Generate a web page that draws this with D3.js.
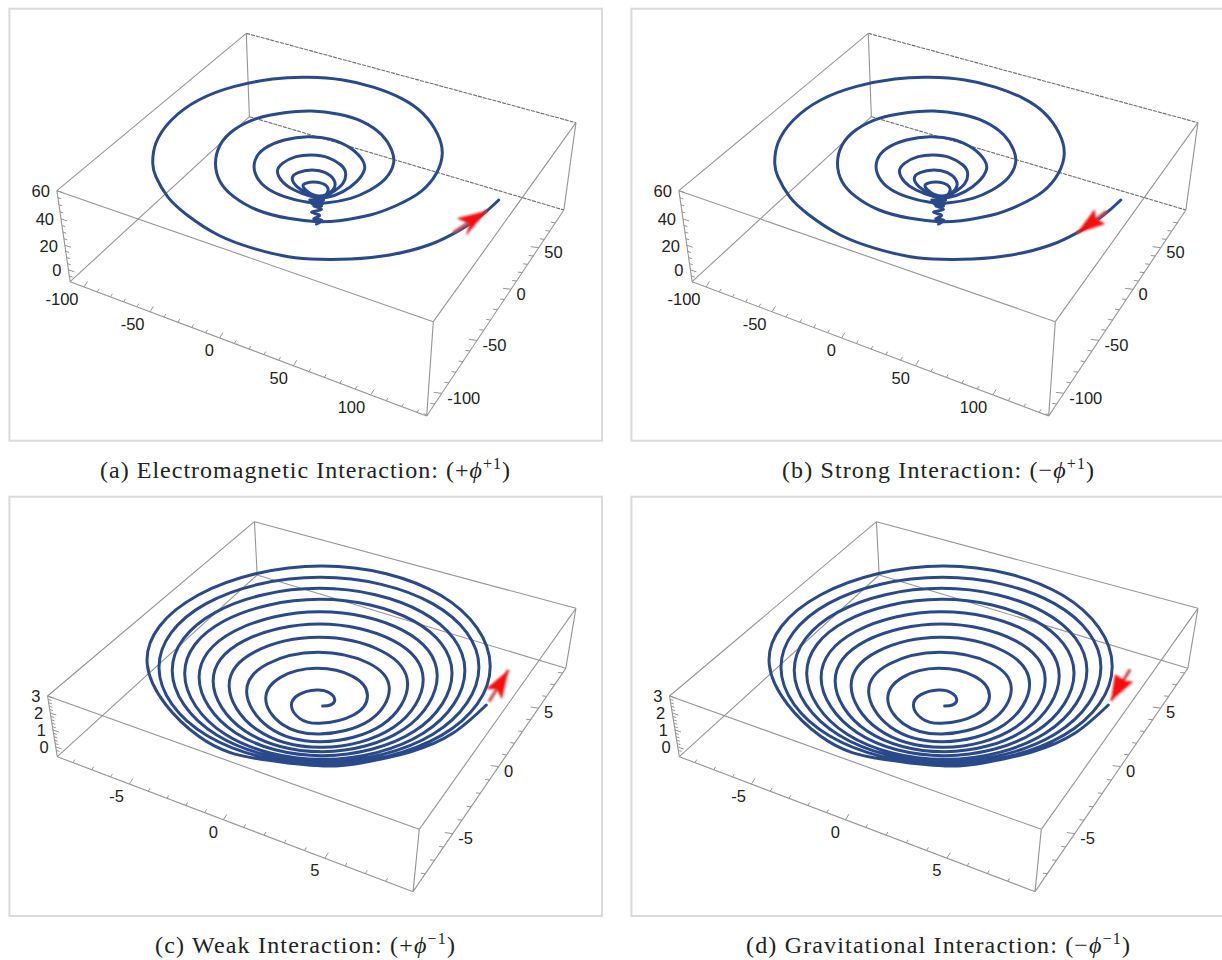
<!DOCTYPE html>
<html>
<head>
<meta charset="utf-8">
<script src="https://cdnjs.cloudflare.com/ajax/libs/d3/7.8.5/d3.min.js"></script>
<style>
body { margin: 0; background: #fff; }
svg { display: block; }
</style>
</head>
<body>
<script>
const w = 1222;
const h = 960;

const spiralTopU = [
  1280,1250,1210,1165,1100,1000,900,820,740,650,
  560,480,430,400,392,400,440,510,600,700,
  790,880,960,1030,1085,1122,1135,1120,1080,1020,
  950,870,815,740,660,600,565,553,565,600,
  660,730,800,870,930,980,1005,1010,990,950,
  900,840,790,730,680,655,655,680,730,790,
  850,900,930,935,915,880,840,800,755,725,
  712,725,760,800,840,875,887,880,855,825,
  790,762,750,765,800,835,857,857,835,805,
  785,778,795,815,838,840,820,800,830,795,
  830,800,825,805,825,800,820,805,825,812]
const spiralTopV = [
  600,632,668,700,735,765,777,778,770,745,
  705,645,590,530,490,430,360,300,260,237,
  232,240,262,295,340,400,460,520,575,615,
  645,662,665,655,630,590,545,490,435,390,
  355,338,333,343,365,405,450,490,535,570,
  595,608,607,590,560,520,480,445,420,410,
  418,445,480,510,545,575,592,590,570,545,
  515,490,470,465,472,495,520,550,575,590,
  580,560,535,518,510,518,540,565,585,585,
  570,555,547,547,558,578,590,585,600,600,
  610,610,618,618,628,636,646,656,660,672]

const spiralBottomU = [
  1248,1163,1052,930,830,670,510,378,509,825,1131,1258,
  1133,830,532,408,529,822,1110,1229,
  1112,830,556,442,553,820,1084,1193,
  1087,830,578,474,575,820,1060,1160,
  1063,828,604,511,602,820,1034,1122,
  1036,828,629,547,627,820,1008,1086,
  1010,826,658,588,655,818,979,1046,
  981,824,689,633,686,815,945,999,
  947,820,722,682,720,812,905,943,
  907,820,769,748,767,812,845,859,848,828]
const spiralBottomV = [
  645,729,786,818,828,808,739,524,315,228,316,528,
  736,822,737,533,341,262,341,531,
  732,815,735,542,367,295,367,540,
  729,808,733,551,393,328,392,548,
  724,797,728,563,423,365,421,557,
  718,785,723,574,452,402,451,568,
  712,772,718,588,485,442,483,581,
  704,755,711,605,522,487,519,595,
  692,732,701,627,562,535,559,616,
  675,700,685,648,614,600,608,629,645,648]

// box corners: left, back, right, front at the top, then the same at the floor
const cornersTopU = [146,632,1478,1112,180,640,1447,1095]
const cornersTopV = [572,100,368,965,845,350,630,1248]
const cornersBottomU = [122,653,1478,1076,147,660,1452,1060]
const cornersBottomV = [618,95,355,1018,800,255,535,1205]

// axis ticks, with where each major tick sits along its box edge (0 to 1)
const xMajorTop = [-100,-50,0,50,100]
const xFracTop = [0.039,0.224,0.419,0.626,0.843]
const yMajorTop = [-100,-50,0,50]
const yFracTop = [0.11,0.367,0.615,0.817]
const zMajorTop = [60,40,20,0]
const zFracTop = [0,0.31,0.6,0.87]

const xMajorBottom = [-5,0,5]
const xFracBottom = [0.2026,0.467,0.752]
const yMajorBottom = [-5,0,5]
const yFracBottom = [0.26,0.56,0.822]
const zMajorBottom = [3,2,1,0]
const zFracBottom = [0,0.28,0.56,0.84]

// arrow outlines in view units: tip, barb, notch, barb, then the shaft tail
const arrowU = {
  a: [1250,1172,1205,1195], b: [1167,1213,1216,1240], c: [1305,1247,1275,1288], d: [1255,1265,1292,1312]
}
const arrowV = {
  a: [632,655,672,708], b: [700,628,655,672], c: [540,597,598,628], d: [632,553,572,575]
}
const tailU = { a: 1163, b: 1244, c: 1255, d: 1304 }
const tailV = { a: 698, b: 634, c: 635, d: 538 }

const captionNames = ['(a) Electromagnetic Interaction: ','(b) Strong Interaction: ','(c) Weak Interaction: ','(d) Gravitational Interaction: ']
const captionSigns = ['+','\u2212','+','\u2212']
const captionPowers = ['+1','+1','\u22121','\u22121']
const captionWidths = [410,312,300,384]

const svg = d3.select('body').append('svg').attr('width',w).attr('height',h)

const defs = svg.append('defs')
defs.append('filter').attr('id','soft')
  .attr('x','-30%').attr('y','-30%').attr('width','160%').attr('height','160%')
  .append('feGaussianBlur').attr('stdDeviation',0.9)
defs.append('filter').attr('id','softLine')
  .attr('x','-5%').attr('y','-5%').attr('width','110%').attr('height','110%')
  .append('feGaussianBlur').attr('stdDeviation',0.35)

const edges = [[0,1],[1,2],[2,3],[3,0],[0,4],[1,5],[2,6],[3,7],[4,5],[5,6],[6,7],[7,4]]
const dashedEdges = ['1-2','5-6']

const rows = [
  {
    su: spiralTopU, sv: spiralTopV, cu: cornersTopU, cv: cornersTopV,
    vDomain: [0,1470], vRange: [0,490], frame: [8.7,440.7], dashed: true,
    xMajor: xMajorTop, xFrac: xFracTop, xTicks: d3.range(-100,131,10),
    yMajor: yMajorTop, yFrac: yFracTop, yTicks: d3.range(-120,81,10),
    zMajor: zMajorTop, zFrac: zFracTop, zTicks: d3.range(-5,61,5),
    capY: 478
  },
  {
    su: spiralBottomU, sv: spiralBottomV, cu: cornersBottomU, cv: cornersBottomV,
    vDomain: [0,1410], vRange: [490,960], frame: [496.7,916], dashed: false,
    xMajor: xMajorBottom, xFrac: xFracBottom, xTicks: d3.range(-8,9,1),
    yMajor: yMajorBottom, yFrac: yFracBottom, yTicks: d3.range(-8,9,1),
    zMajor: zMajorBottom, zFrac: zFracBottom, zTicks: d3.range(-0.2,3.01,0.2),
    capY: 953
  }
]

const panels = [
  { key: 'a', row: 0, off: 0 },
  { key: 'b', row: 0, off: 622 },
  { key: 'c', row: 1, off: 0 },
  { key: 'd', row: 1, off: 622 }
]

function isMajor(v, list) {
  return list.some(m => Math.abs(m - v) < 1e-6)
}

panels.forEach((p, i) => {
  const r = rows[p.row]
  const uScale = d3.scaleLinear().domain([0,1568]).range([p.off, p.off + 611])
  const vScale = d3.scaleLinear().domain(r.vDomain).range(r.vRange)
  const corner = k => [uScale(r.cu[k]), vScale(r.cv[k])]
  const g = svg.append('g')

  g.append('rect')
    .attr('x',p.off + 9.4).attr('y',r.frame[0])
    .attr('width',592.6).attr('height',r.frame[1] - r.frame[0])
    .attr('fill','none').attr('stroke','#dadada').attr('stroke-width',2)

  // box
  g.selectAll('.edge').data(edges).enter().append('line')
    .attr('class','edge')
    .attr('x1',d => corner(d[0])[0]).attr('y1',d => corner(d[0])[1])
    .attr('x2',d => corner(d[1])[0]).attr('y2',d => corner(d[1])[1])
    .attr('stroke',d => r.dashed && dashedEdges.includes(d.join('-')) ? '#6e6e6e' : '#949494')
    .attr('stroke-width',1.1)
    .attr('stroke-dasharray',d => r.dashed && dashedEdges.includes(d.join('-')) ? '4 1' : null)

  // one axis: value -> fraction along edge -> point on the edge
  function axis(from, to, major, frac, ticks, tickVec, labelDx, labelDy, anchor) {
    const fr = d3.scaleLinear().domain(major).range(frac)
    const pos = d3.scaleLinear().domain([0,1]).range([corner(from), corner(to)])
    ticks.forEach(t => {
      const pt = pos(fr(t))
      const s = isMajor(t, major) ? 1 : 0.55
      g.append('line')
        .attr('x1',pt[0]).attr('y1',pt[1])
        .attr('x2',pt[0] + tickVec[0] * s).attr('y2',pt[1] + tickVec[1] * s)
        .attr('stroke','#949494').attr('stroke-width',1)
    })
    major.forEach(t => {
      const pt = pos(fr(t))
      g.append('text')
        .attr('x',pt[0] + labelDx).attr('y',pt[1] + labelDy)
        .attr('text-anchor',anchor).attr('dominant-baseline','middle')
        .attr('font-family','"Liberation Sans", Arial, sans-serif')
        .attr('font-size',16.5).attr('fill','#222')
        .text(t)
    })
  }
  axis(4, 7, r.xMajor, r.xFrac, r.xTicks, [3.5,-5.5], -5.5, 13.5, 'end')
  axis(7, 6, r.yMajor, r.yFrac, r.yTicks, [-8,-1], 5.5, 6, 'start')
  axis(0, 4, r.zMajor, r.zFrac, r.zTicks, [6,2], -7, 2, 'end')

  // spiral
  const line = d3.line()
    .x(d => uScale(d[0])).y(d => vScale(d[1]))
    .curve(d3.curveNatural)
  g.append('path')
    .datum(d3.zip(r.su, r.sv))
    .attr('d',line)
    .attr('fill','none').attr('stroke','#2a4a8b').attr('stroke-width',3)
    .attr('stroke-linejoin','round').attr('stroke-linecap','round')
    .attr('filter','url(#softLine)')

  // arrow
  const head = d3.zip(arrowU[p.key], arrowV[p.key]).map(d => [uScale(d[0]), vScale(d[1])])
  const arrow = g.append('g').attr('filter','url(#soft)')
  arrow.append('line')
    .attr('x1',uScale(tailU[p.key])).attr('y1',vScale(tailV[p.key]))
    .attr('x2',head[0][0]).attr('y2',head[0][1])
    .attr('stroke','#c05050').attr('stroke-width',3.2)
  arrow.append('polygon')
    .attr('points',head.map(d => d.join(',')).join(' '))
    .attr('fill','#f60808')

  // caption
  const cap = g.append('text')
    .attr('x',p.off + (i % 2 ? 316 : 305)).attr('y',r.capY)
    .attr('text-anchor','middle')
    .attr('font-family','"Liberation Serif", serif')
    .attr('font-size',24).attr('fill','#222')
    .attr('textLength',captionWidths[i]).attr('lengthAdjust','spacing')
  cap.append('tspan').text(captionNames[i] + '(' + captionSigns[i])
  cap.append('tspan').attr('font-style','italic').text('\u03d5')
  cap.append('tspan').attr('font-size',16).attr('dy',-9).text(captionPowers[i])
  cap.append('tspan').attr('dy',9).text(')')
})
</script>
</body>
</html>
